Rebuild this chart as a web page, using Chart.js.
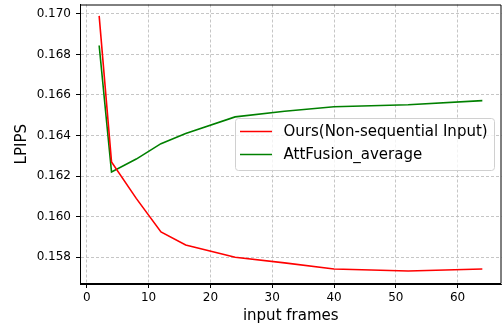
<!DOCTYPE html>
<html>
<head>
<meta charset="utf-8">
<script src="https://cdn.jsdelivr.net/npm/chart.js@4"></script>
<style>
html,body{margin:0;padding:0;background:#fff;}
canvas{display:block;}
</style>
</head>
<body>
<canvas id="c" width="503" height="329"></canvas>
<script>
const framesOurs = [2, 4, 8, 12, 16, 24, 32, 40, 52, 64];
const oursValues = [0.1699, 0.1627, 0.1609, 0.15925, 0.1586, 0.1580, 0.15772, 0.15742, 0.15732, 0.15742];
const framesAtt = [2, 4, 8, 12, 16, 24, 32, 40, 52, 64];
const attValues = [0.16844, 0.1622, 0.16284, 0.1636, 0.1641, 0.16492, 0.1652, 0.16542, 0.16552, 0.16572];
const xTicks = [0, 10, 20, 30, 40, 50, 60];
const yTicks = [0.158, 0.160, 0.162, 0.164, 0.166, 0.168, 0.170];
const seriesNames = ["Ours(Non-sequential Input)", "AttFusion_average"];
const xTitle = "input frames";
const yTitle = "LPIPS";

const FONT = "'DejaVu Sans', sans-serif";

const frameAndLegend = {
  id: 'frameAndLegend',
  afterDraw(chart) {
    const ctx = chart.ctx;
    const a = chart.chartArea;
    ctx.save();
    ctx.setLineDash([]);
    ctx.strokeStyle = '#000';
    ctx.lineWidth = 1;
    ctx.beginPath();
    ctx.moveTo(a.left + 0.5, a.bottom - 0.5);
    ctx.lineTo(a.left + 0.5, a.top + 0.5);
    ctx.lineTo(a.right - 0.5, a.top + 0.5);
    ctx.lineTo(a.right - 0.5, a.bottom - 0.5);
    ctx.closePath();
    ctx.stroke();

    // legend
    const bx = 235.5, by = 118.5, bw = 259, bh = 52, r = 3;
    ctx.fillStyle = 'rgba(255,255,255,0.8)';
    ctx.strokeStyle = '#d0d0d0';
    ctx.beginPath();
    ctx.moveTo(bx + r, by);
    ctx.lineTo(bx + bw - r, by);
    ctx.quadraticCurveTo(bx + bw, by, bx + bw, by + r);
    ctx.lineTo(bx + bw, by + bh - r);
    ctx.quadraticCurveTo(bx + bw, by + bh, bx + bw - r, by + bh);
    ctx.lineTo(bx + r, by + bh);
    ctx.quadraticCurveTo(bx, by + bh, bx, by + bh - r);
    ctx.lineTo(bx, by + r);
    ctx.quadraticCurveTo(bx, by, bx + r, by);
    ctx.closePath();
    ctx.fill();
    ctx.stroke();

    ctx.font = "15px " + FONT;
    ctx.textBaseline = 'middle';
    ctx.fillStyle = '#000';
    const rows = [131.5, 154.5];
    chart.data.datasets.forEach((ds, i) => {
      ctx.strokeStyle = ds.borderColor;
      ctx.lineWidth = 1.5;
      ctx.beginPath();
      ctx.moveTo(240, rows[i]);
      ctx.lineTo(272, rows[i]);
      ctx.stroke();
      ctx.fillText(ds.label, 283.5, rows[i] + 1);
    });
    ctx.restore();
  }
};

const gridOpts = {
  color: '#b8b8b8',
  lineWidth: 0.8,
  tickBorderDash: [],
  tickColor: '#000',
  tickWidth: 1,
  tickLength: 4,
  drawTicks: true
};
const borderOpts = {display: true, color: '#000', width: 1, dash: [3, 2]};

new Chart(document.getElementById('c'), {
  type: 'line',
  data: {
    datasets: [
      {
        label: seriesNames[0],
        data: framesOurs.map((x, i) => ({x: x, y: oursValues[i]})),
        borderColor: '#ff0000',
        backgroundColor: '#ff0000',
        borderWidth: 1.6,
        pointRadius: 0,
        tension: 0,
        fill: false
      },
      {
        label: seriesNames[1],
        data: framesAtt.map((x, i) => ({x: x, y: attValues[i]})),
        borderColor: '#008000',
        backgroundColor: '#008000',
        borderWidth: 1.6,
        pointRadius: 0,
        tension: 0,
        fill: false
      }
    ]
  },
  options: {
    responsive: false,
    animation: false,
    devicePixelRatio: 1,
    layout: {padding: {left: 0, right: 1.5, top: 4.5, bottom: 0}},
    plugins: {legend: {display: false}, tooltip: {enabled: false}},
    scales: {
      x: {
        type: 'linear',
        min: -1.1,
        max: 67.1,
        afterBuildTicks(scale) { scale.ticks = xTicks.map(v => ({value: v})); },
        afterFit(scale) { scale.height = 45; scale.paddingLeft = 0; scale.paddingRight = 0; },
        ticks: {
          font: {family: FONT, size: 12},
          color: '#000',
          padding: 3,
          maxRotation: 0,
          autoSkip: false,
          callback: v => String(v)
        },
        grid: gridOpts,
        border: borderOpts,
        title: {
          display: true,
          text: xTitle,
          font: {family: FONT, size: 15},
          color: '#000',
          padding: {top: 0, bottom: 4}
        }
      },
      y: {
        type: 'linear',
        min: 0.15668,
        max: 0.17046,
        afterBuildTicks(scale) { scale.ticks = yTicks.map(v => ({value: v})); },
        afterFit(scale) { scale.width = 80; scale.paddingTop = 0; scale.paddingBottom = 0; },
        ticks: {
          font: {family: FONT, size: 12},
          color: '#000',
          padding: 5,
          autoSkip: false,
          callback: v => Number(v).toFixed(3)
        },
        grid: gridOpts,
        border: borderOpts,
        title: {
          display: true,
          text: yTitle,
          font: {family: FONT, size: 15},
          color: '#000',
          padding: {top: 13, bottom: 0}
        }
      }
    }
  },
  plugins: [frameAndLegend]
});
</script>
</body>
</html>
